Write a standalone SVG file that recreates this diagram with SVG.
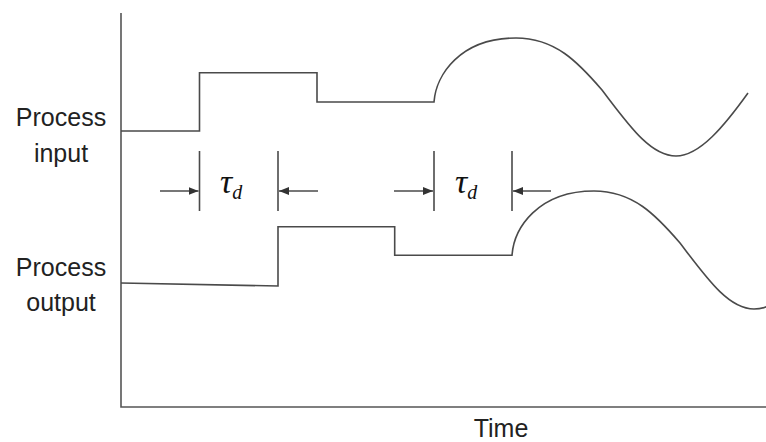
<svg xmlns="http://www.w3.org/2000/svg" width="766" height="442" viewBox="0 0 766 442">
<style>
.ln{fill:none;stroke:#4a4a4a;stroke-width:1.6;stroke-linejoin:miter}
.ax{fill:none;stroke:#555;stroke-width:1.6}
.lbl{font-family:"Liberation Sans",Arial,sans-serif;font-size:25px;fill:#222;text-anchor:middle}
.tau{font-family:"Liberation Serif","Times New Roman",serif;font-style:italic;fill:#111}
.arr{fill:none;stroke:#4a4a4a;stroke-width:1.4}
</style>
<defs>
<marker id="ah" viewBox="0 0 10 8" refX="10" refY="4" markerWidth="10" markerHeight="8" markerUnits="userSpaceOnUse" orient="auto">
<path d="M0,0 L10,4 L0,8 Z" fill="#333"/>
</marker>
</defs>
<rect width="766" height="442" fill="#fff"/>
<g id="axes">
<path class="ax" d="M121,13 V407 H766"/>
</g>
<g id="input-signal">
<path class="ln" d="M121,131 H199.5 V72.7 H317 V102 H434 C436,75 460,38 516,38 C555,38 578,62 602,90 C628,124 650,156 676,156 C700,156 725,125 748,93"/>
</g>
<g id="output-signal">
<path class="ln" d="M121,283 L278,286 V226.7 H394.7 V255.3 H512 C514,228 538,191 594,191 C633,191 656,215 680,243 C706,277 728,309 754,309 C760,309 764,308 768,306"/>
</g>
<g id="labels">
<text class="lbl" x="61" y="126">Process</text>
<text class="lbl" x="61" y="162">input</text>
<text class="lbl" x="61" y="276">Process</text>
<text class="lbl" x="61" y="311">output</text>
<text class="lbl" x="501" y="437">Time</text>
</g>
<g id="delay1">
<line class="ln" x1="199.5" y1="151" x2="199.5" y2="211"/>
<line class="ln" x1="278" y1="151" x2="278" y2="211"/>
<text class="tau" x="220" y="193" font-size="34">τ<tspan font-size="20" dy="6">d</tspan></text>
</g>
<g id="delay2">
<line class="ln" x1="434" y1="151" x2="434" y2="211"/>
<line class="ln" x1="512" y1="151" x2="512" y2="211"/>
<text class="tau" x="455" y="193" font-size="34">τ<tspan font-size="20" dy="6">d</tspan></text>
</g>
<g id="connectors">
<line class="arr" x1="160" y1="191" x2="198.5" y2="191" marker-end="url(#ah)"/>
<line class="arr" x1="318" y1="191" x2="279" y2="191" marker-end="url(#ah)"/>
<line class="arr" x1="394" y1="191" x2="433" y2="191" marker-end="url(#ah)"/>
<line class="arr" x1="551" y1="191" x2="513" y2="191" marker-end="url(#ah)"/>
</g>
</svg>
